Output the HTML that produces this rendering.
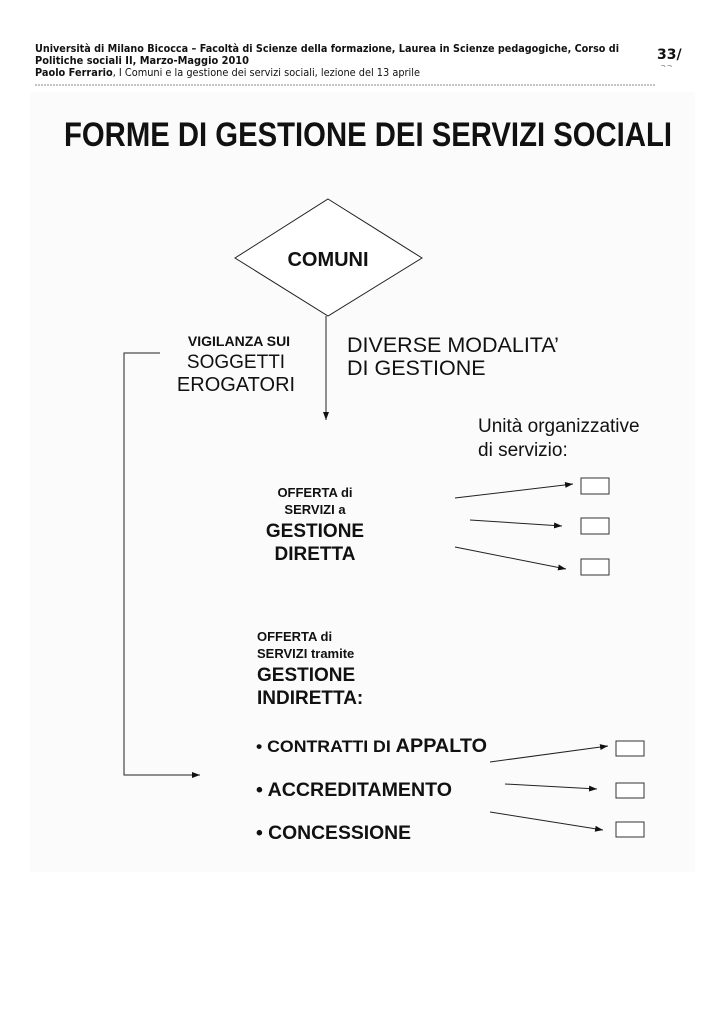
<!DOCTYPE html>
<html><head><meta charset="utf-8"><style>
html,body{margin:0;padding:0;background:#fff;}
svg{display:block;}
</style></head><body>
<svg width="723" height="1023" viewBox="0 0 723 1023" xmlns="http://www.w3.org/2000/svg">
<defs>
<marker id="ah" markerWidth="8" markerHeight="6" refX="8" refY="3" orient="auto" markerUnits="userSpaceOnUse">
<path d="M0,0 L8,3 L0,6 z" fill="#111"/>
</marker>
</defs>
<rect x="30" y="92" width="665" height="780" fill="#fbfbfb"/>
<g font-family="'DejaVu Sans', sans-serif" font-size="10.5" fill="#111">
<text x="35" y="52" font-weight="bold" textLength="584" lengthAdjust="spacingAndGlyphs">Università di Milano Bicocca – Facoltà di Scienze della formazione, Laurea in Scienze pedagogiche, Corso di</text>
<text x="35" y="64" font-weight="bold" textLength="214" lengthAdjust="spacingAndGlyphs">Politiche sociali II, Marzo-Maggio 2010</text>
<text x="35" y="76" textLength="385" lengthAdjust="spacingAndGlyphs"><tspan font-weight="bold">Paolo Ferrario</tspan>, I Comuni e la gestione dei servizi sociali, lezione del 13 aprile</text>
<text x="657" y="59" font-size="14" font-weight="bold">33/</text>
<text x="660" y="72" font-size="10" fill="#999">33</text>
</g>
<line x1="35" y1="85" x2="655" y2="85" stroke="#888" stroke-width="1" stroke-dasharray="2,1"/>
<rect x="650" y="67" width="30" height="8" fill="#fff"/>
<g font-family="'Liberation Sans', sans-serif" fill="#111">
<text x="64" y="146" font-size="34" font-weight="bold" textLength="608" lengthAdjust="spacingAndGlyphs">FORME DI GESTIONE DEI SERVIZI SOCIALI</text>
<polygon points="328,199 422,258 328,316 235,258" fill="#fff" stroke="#222" stroke-width="1"/>
<text x="328" y="266" font-size="20" font-weight="bold" text-anchor="middle">COMUNI</text>
<line x1="326" y1="316" x2="326" y2="420" stroke="#222" marker-end="url(#ah)"/>
<text x="239" y="346" font-size="14" font-weight="bold" text-anchor="middle">VIGILANZA SUI</text>
<text x="236" y="368" font-size="19" text-anchor="middle">SOGGETTI</text>
<text x="236" y="391" font-size="20" text-anchor="middle">EROGATORI</text>
<text x="347" y="352" font-size="21.5">DIVERSE MODALITA’</text>
<text x="347" y="375" font-size="21.5">DI GESTIONE</text>
<polyline points="160,353 124,353 124,775 200,775" fill="none" stroke="#222" marker-end="url(#ah)"/>
<text x="478" y="432" font-size="19">Unità organizzative</text>
<text x="478" y="456" font-size="19">di servizio:</text>
<text x="315" y="497" font-size="13" font-weight="bold" text-anchor="middle">OFFERTA di</text>
<text x="315" y="514" font-size="13" font-weight="bold" text-anchor="middle">SERVIZI a</text>
<text x="315" y="537" font-size="19" font-weight="bold" text-anchor="middle">GESTIONE</text>
<text x="315" y="560" font-size="19" font-weight="bold" text-anchor="middle">DIRETTA</text>
<line x1="455" y1="498" x2="573" y2="484" stroke="#222" marker-end="url(#ah)"/>
<line x1="470" y1="520" x2="562" y2="526" stroke="#222" marker-end="url(#ah)"/>
<line x1="455" y1="547" x2="566" y2="569" stroke="#222" marker-end="url(#ah)"/>
<rect x="581" y="478" width="28" height="16" fill="#fff" stroke="#333"/>
<rect x="581" y="518" width="28" height="16" fill="#fff" stroke="#333"/>
<rect x="581" y="559" width="28" height="16" fill="#fff" stroke="#333"/>
<text x="257" y="641" font-size="13" font-weight="bold">OFFERTA di</text>
<text x="257" y="658" font-size="13" font-weight="bold">SERVIZI tramite</text>
<text x="257" y="681" font-size="19" font-weight="bold">GESTIONE</text>
<text x="257" y="704" font-size="19" font-weight="bold">INDIRETTA:</text>
<text x="256" y="752" font-size="17" font-weight="bold" textLength="231" lengthAdjust="spacingAndGlyphs">• CONTRATTI DI <tspan font-size="19">APPALTO</tspan></text>
<text x="256" y="796" font-size="19" font-weight="bold" textLength="196" lengthAdjust="spacingAndGlyphs">• ACCREDITAMENTO</text>
<text x="256" y="839" font-size="19" font-weight="bold" textLength="155" lengthAdjust="spacingAndGlyphs">• CONCESSIONE</text>
<line x1="490" y1="762" x2="608" y2="746" stroke="#222" marker-end="url(#ah)"/>
<line x1="505" y1="784" x2="597" y2="789" stroke="#222" marker-end="url(#ah)"/>
<line x1="490" y1="812" x2="603" y2="830" stroke="#222" marker-end="url(#ah)"/>
<rect x="616" y="741" width="28" height="15" fill="#fff" stroke="#333"/>
<rect x="616" y="783" width="28" height="15" fill="#fff" stroke="#333"/>
<rect x="616" y="822" width="28" height="15" fill="#fff" stroke="#333"/>
</g>
</svg>
</body></html>
